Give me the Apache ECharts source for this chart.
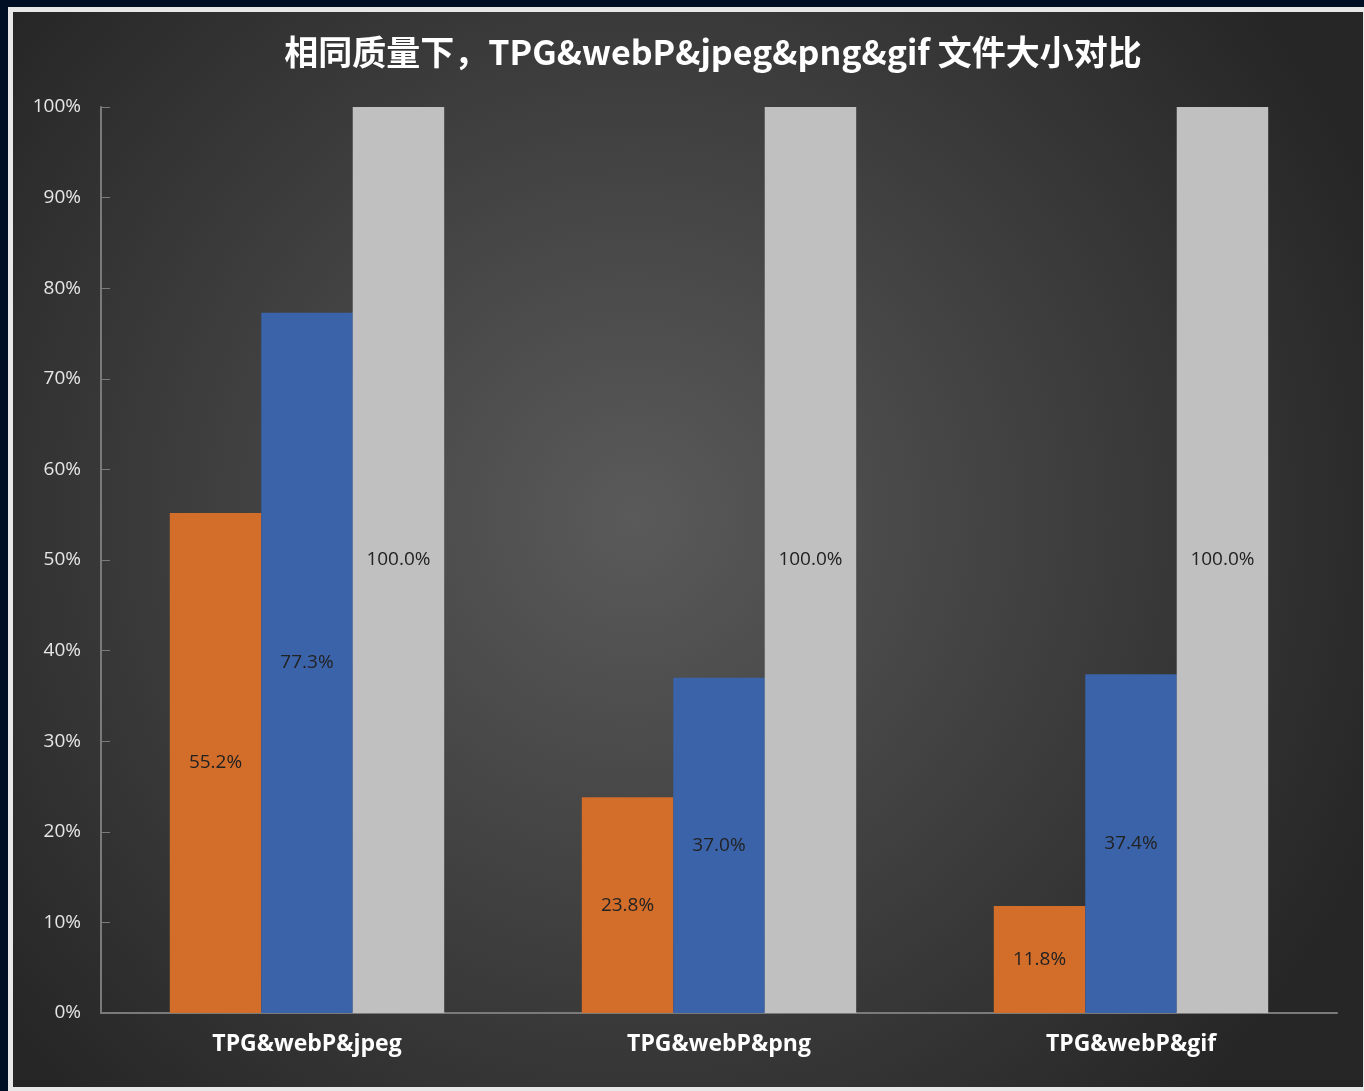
<!DOCTYPE html>
<html>
<head>
  <meta charset="utf-8" />
  <title>ECharts</title>
  <script src="https://cdn.jsdelivr.net/npm/echarts@6.0.0/dist/echarts.min.js"></script>
  <style>
    body { margin: 0; background-color: #000f24; }
    #frame { position: absolute; left: 8px; top: 7px; width: 1356px; height: 1084px; background: #e8e8e8; }
    #main { position: absolute; left: 13px; top: 12px; width: 1350px; height: 1075px; }
  </style>
</head>
<body>
  <div id="frame"></div>
  <div id="main"></div>
  <script type="text/javascript">
    var myChart = echarts.init(document.getElementById('main'));

    let categories = ['TPG&webP&jpeg', 'TPG&webP&png', 'TPG&webP&gif'];
    let tpgData = [55.2, 23.8, 11.8];
    let webpData = [77.3, 37.0, 37.4];
    let otherData = [100, 100, 100];
    let colors = ['#D36D2A', '#3B63AA', '#C0C0C0'];

    let fontFamily = '"Open Sans", "Noto Sans", "Noto Sans CJK SC", sans-serif';
    let axisColor = '#7a7a7a';

    function barSeries(data, color) {
      return {
        type: 'bar',
        data: data,
        barWidth: '22.2%',
        barGap: '0%',
        itemStyle: { color: color },
        label: {
          show: true,
          position: 'inside',
          color: '#222222',
          fontSize: 19,
          fontFamily: fontFamily,
          formatter: function (p) { return p.value.toFixed(1) + '%'; }
        }
      };
    }

    var option = {
      backgroundColor: new echarts.graphic.RadialGradient(0.46, 0.47, 0.75, [
        { offset: 0, color: '#5a5a5a' },
        { offset: 1, color: '#262626' }
      ]),
      title: {
        text: '相同质量下，TPG&webP&jpeg&png&gif 文件大小对比',
        left: 695,
        textAlign: 'center',
        top: 18,
        textStyle: {
          color: '#ffffff',
          fontSize: 34,
          fontWeight: 'bold',
          fontFamily: '"Noto Sans CJK SC", "Open Sans", sans-serif'
        }
      },
      grid: {
        left: 88,
        right: 26,
        top: 95,
        bottom: 74
      },
      xAxis: {
        type: 'category',
        data: categories,
        axisLine: { lineStyle: { color: axisColor, width: 2 } },
        axisTick: { show: false },
        axisLabel: {
          color: '#ffffff',
          fontSize: 23,
          fontWeight: 'bold',
          fontFamily: fontFamily,
          margin: 20
        }
      },
      yAxis: {
        type: 'value',
        min: 0,
        max: 100,
        interval: 10,
        axisLine: { show: true, lineStyle: { color: axisColor, width: 2 } },
        axisTick: { show: true, inside: true, length: 9, lineStyle: { color: axisColor } },
        splitLine: { show: false },
        axisLabel: {
          color: '#e6e6e6',
          fontSize: 19,
          fontFamily: fontFamily,
          margin: 20,
          formatter: '{value}%'
        }
      },
      series: [
        barSeries(tpgData, colors[0]),
        barSeries(webpData, colors[1]),
        barSeries(otherData, colors[2])
      ]
    };

    myChart.setOption(option);
  </script>
</body>
</html>
